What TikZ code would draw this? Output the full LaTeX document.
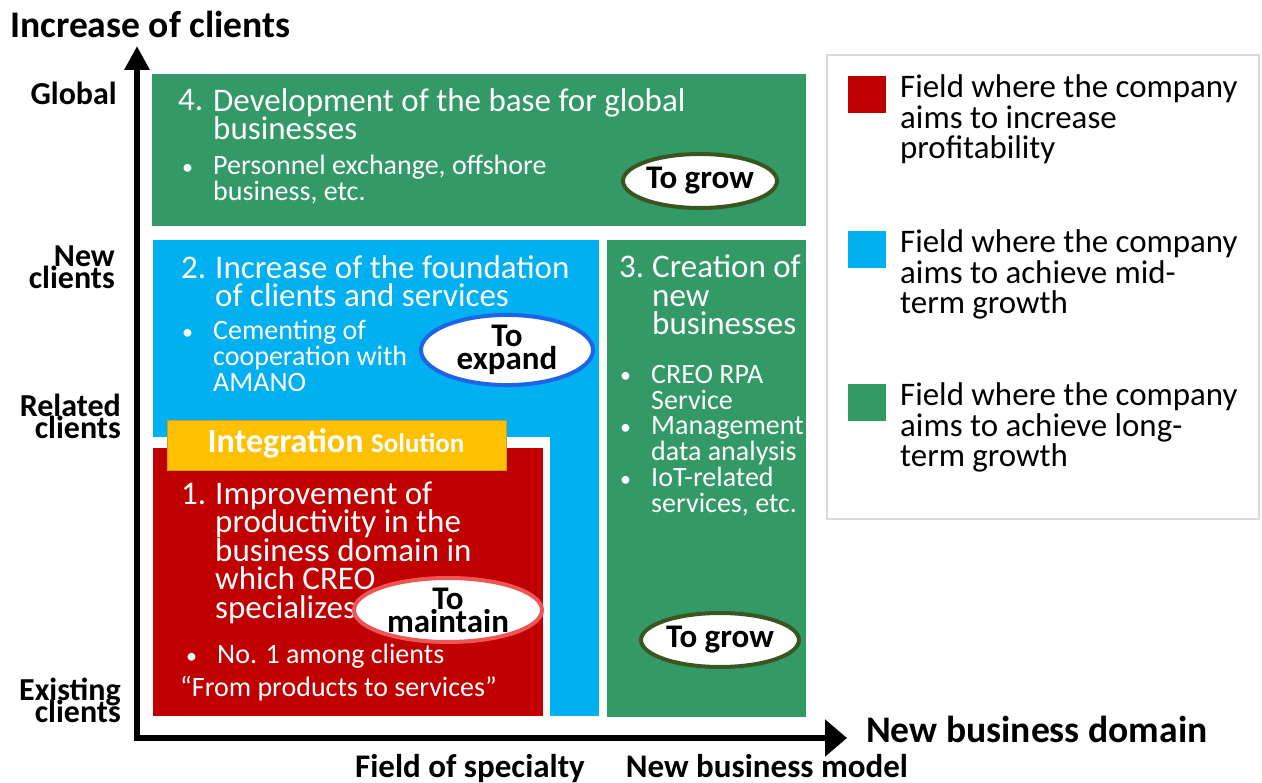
\documentclass[tikz,border=0pt]{standalone}
\usepackage{fontspec}
\setmainfont{Carlito}
\usetikzlibrary{arrows.meta,shapes.geometric}

\definecolor{fieldred}{HTML}{C00000}
\definecolor{fieldblue}{HTML}{00B0F0}
\definecolor{fieldgreen}{HTML}{339966}
\definecolor{barorange}{HTML}{FFC000}
\definecolor{barborder}{HTML}{C8A030}
\definecolor{growring}{HTML}{3A5520}
\definecolor{expandring}{HTML}{1E64E6}
\definecolor{maintainring}{HTML}{F05555}
\definecolor{legendframe}{HTML}{DADADA}

% multi-line text nodes are placed by the baseline of their last line
\tikzset{
  fieldbox/.style={draw=none, fill=#1, anchor=north west, inner sep=0pt},
  titletext/.style={anchor=base west, align=left, inner sep=0pt, text=white,
    font=\fontsize{33}{28.5}\selectfont},
  itemtext/.style={anchor=base west, align=left, inner sep=0pt, text=white,
    font=\fontsize{28}{26}\selectfont},
  bulletmark/.style={anchor=base west, inner sep=0pt, text=white,
    font=\fontsize{22}{24}\selectfont},
  axislabel/.style={align=right, inner sep=0pt, anchor=base east,
    font=\bfseries\fontsize{32}{22}\selectfont},
  footlabel/.style={inner sep=0pt, anchor=base,
    font=\bfseries\fontsize{33}{33}\selectfont},
  ring/.style={ellipse, draw=#1, line width=4pt, fill=white, inner sep=0pt,
    align=center, font=\bfseries\fontsize{33}{23}\selectfont},
  legendtext/.style={anchor=base west, align=left, inner sep=0pt,
    font=\fontsize{32.9}{30.5}\selectfont},
  swatch/.style={fill=#1, draw=none, minimum width=38pt, minimum height=37pt,
    inner sep=0pt, anchor=north west},
  axisline/.style={line width=6pt, line join=miter,
    {Triangle[width=24pt,length=24pt]}-{Triangle[width=36pt,length=22pt]}},
}

\begin{document}
% keep the set line spacing even where lines of large text nearly touch
\lineskiplimit=-100pt
\begin{tikzpicture}[x=1pt, y=-1pt]
\useasboundingbox (0,0) rectangle (1262,783);

% ---- field boxes ----
\node[fieldbox=fieldgreen, minimum width=654pt, minimum height=152pt] (global) at (152,74) {};
\node[fieldbox=fieldblue, minimum width=446pt, minimum height=476pt] (found) at (153,240) {};
\node[fieldbox=fieldgreen, minimum width=199pt, minimum height=477pt] (newbiz) at (607,240) {};
\node[fieldbox=white, minimum width=397pt, minimum height=279pt] (gap) at (153,437) {};
\node[fieldbox=fieldred, minimum width=390pt, minimum height=268pt] (core) at (153,448) {};

% ---- integration bar ----
\node[fill=barorange, draw=barborder, line width=1pt, minimum width=339pt,
      minimum height=50pt, anchor=north west, inner sep=0pt] (bar) at (167,420) {};
\node[text=white, inner sep=0pt, anchor=base] (bartext) at (336,453)
  {\bfseries\fontsize{34}{34}\selectfont Integration \fontsize{27}{27}\selectfont Solution};

% ---- box 4 ----
\node[titletext] (n4) at (178,111) {4.};
\node[titletext] (t4) at (213,140) {Development of the base for global\\businesses};
\node[bulletmark] (b4) at (182,175) {•};
\node[itemtext] (i4) at (213,201) {Personnel exchange, offshore\\business, etc.};

% ---- box 2 ----
\node[titletext] (n2) at (181,279) {2.};
\node[titletext] (t2) at (215,307) {Increase of the foundation\\of clients and services};
\node[bulletmark] (b2) at (182,340) {•};
\node[itemtext] (i2) at (213,392) {Cementing of\\cooperation with\\AMANO};

% ---- box 3 ----
\node[titletext] (n3) at (619,278) {3.};
\node[titletext] (t3) at (652,335) {Creation of\\new\\businesses};
\node[bulletmark] (b3a) at (620,383) {•};
\node[bulletmark] (b3b) at (620,435) {•};
\node[bulletmark] (b3c) at (620,487) {•};
\node[itemtext] (i3) at (651,513) {CREO RPA\\Service\\Management\\data analysis\\IoT-related\\services, etc.};

% ---- box 1 ----
\node[titletext] (n1) at (181,505) {1.};
\node[titletext] (t1) at (215,618) {Improvement of\\productivity in the\\business domain in\\which CREO\\specializes};
\node[bulletmark] (b1) at (186,663) {•};
\node[itemtext] (i1) at (217,663) {No. 1 among clients};
\node[itemtext] (q1) at (180,696) {“From products to services”};

% ---- rings ----
\node[ring=growring, minimum width=154pt, minimum height=54pt] (grow4) at (700,181) {To grow};
\node[ring=expandring, minimum width=172pt, minimum height=64pt] (expand) at (507,350) {To\\expand};
\node[ring=maintainring, minimum width=188pt, minimum height=64pt] (maintain) at (448,610) {To\\maintain};
\node[ring=growring, minimum width=158pt, minimum height=54pt] (grow3) at (720,640) {To grow};

% ---- legend ----
\node[draw=legendframe, line width=2pt, fill=white, minimum width=432pt,
      minimum height=464pt, anchor=north west, inner sep=0pt] (legend) at (826,54) {};
\node[swatch=fieldred] (sw1) at (848,76) {};
\node[swatch=fieldblue] (sw2) at (848,231) {};
\node[swatch=fieldgreen] (sw3) at (848,384) {};
\node[legendtext] (l1) at (900,159) {Field where the company\\aims to increase\\profitability};
\node[legendtext] (l2) at (900,314) {Field where the company\\aims to achieve mid-\\term growth};
\node[legendtext] (l3) at (900,467) {Field where the company\\aims to achieve long-\\term growth};

% ---- axes ----
\coordinate (origin) at (137,738);
\coordinate (ytip) at (137,46);
\coordinate (xtip) at (847,738);
\draw[axisline] (ytip) -- (origin) -- (xtip);

\node[anchor=base west, inner sep=0pt, font=\bfseries\fontsize{37.6}{37.6}\selectfont] (ytitle) at (10,38) {Increase of clients};
\node[anchor=base west, inner sep=0pt, font=\bfseries\fontsize{37.6}{37.6}\selectfont] (xtitle) at (866,742) {New business domain};

\node[axislabel] (global-l) at (117,105) {Global};
\node[axislabel] (new-l) at (115,289) {New\\clients};
\node[axislabel] (related-l) at (121,439) {Related\\clients};
\node[axislabel] (existing-l) at (121,722) {Existing\\clients};

\node[footlabel] (spec-l) at (470,777) {Field of specialty};
\node[footlabel] (model-l) at (767,777) {New business model};
\end{tikzpicture}
\end{document}
